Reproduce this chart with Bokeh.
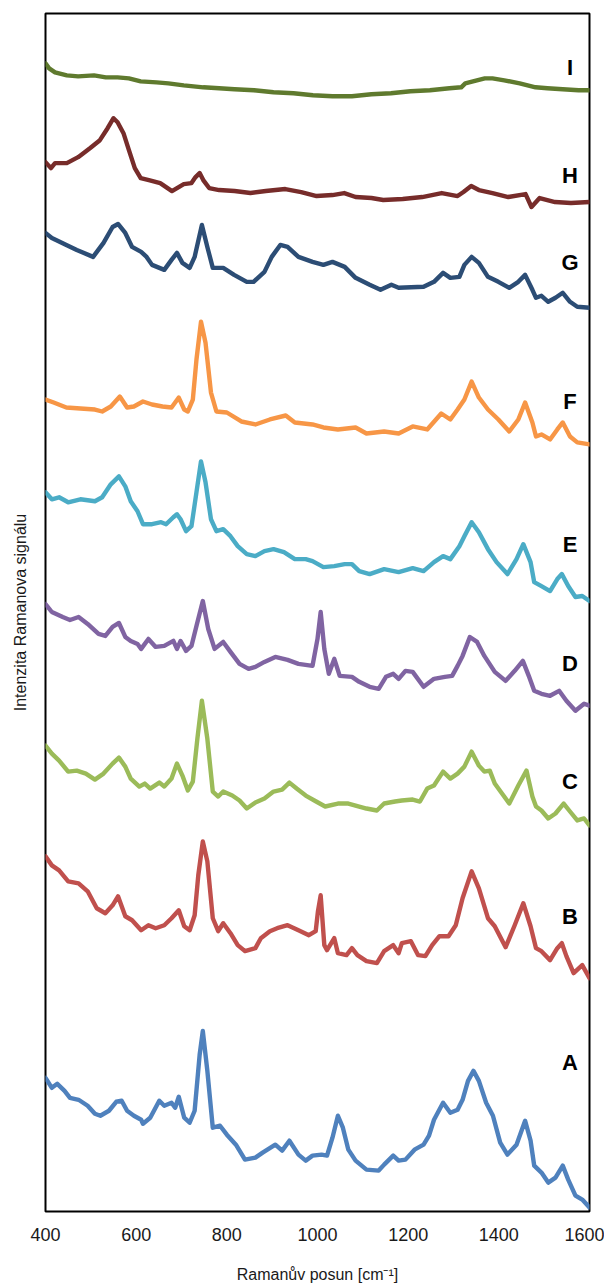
from bokeh.plotting import figure
from bokeh.models import Range1d, FixedTicker, ColumnDataSource
from bokeh.core.properties import value
from bokeh.embed import file_html
from bokeh.resources import INLINE

# ---- data (Raman shift in cm^-1, stacked intensity in a.u.) ----
A_x = [400,414,426,442,454,473,493,509,521,540,556,568,580,595,611,615,631,651,662,678,
       686,694,706,718,729,740,747,757,769,785,800,820,840,863,879,907,922,938,958,974,
       989,1009,1021,1033,1045,1056,1068,1084,1108,1135,1147,1167,1179,1194,1214,1234,1246,1257,1277,1293,
       1309,1320,1332,1344,1356,1372,1387,1403,1419,1439,1458,1470,1478,1494,1509,1525,1541,1553,1569,1584,1600]
A_y = [133,123,127,120,113,111,105,97,95,100,109,110,100,95,91,87,93,110,105,108,
       103,114,93,88,100,156,180,140,83,85,76,66,51,53,58,66,60,70,56,50,
       55,56,55,73,95,83,61,50,41,40,46,55,50,51,61,66,75,91,108,98,
       101,111,130,140,130,108,95,68,56,66,90,70,45,38,28,33,45,31,15,11,3]

B_x = [400,414,430,450,473,493,513,532,548,560,576,591,611,627,643,662,678,694,706,718,
       729,737,747,757,769,781,792,808,824,840,863,875,895,911,934,958,981,996,1001,1007,
       1015,1021,1037,1045,1064,1076,1088,1108,1131,1147,1167,1179,1186,1206,1222,1238,1253,1269,1289,1305,
       1320,1340,1356,1376,1391,1415,1435,1454,1470,1482,1494,1513,1529,1539,1549,1565,1584,1600]
B_y = [355,346,341,330,328,320,303,298,306,315,295,291,281,286,283,286,293,301,285,281,
       296,336,370,350,293,280,288,278,266,260,263,273,280,283,286,281,276,280,300,316,
       266,261,273,258,256,263,256,250,248,260,266,258,268,270,256,255,266,275,275,286,
       313,340,323,293,285,264,286,308,285,263,260,251,263,268,255,238,246,233]

C_x = [400,414,430,450,469,489,509,528,548,562,576,588,607,619,631,651,662,678,690,702,
       714,725,735,745,757,769,781,792,812,828,844,863,883,903,922,938,954,974,997,1017,
       1045,1068,1084,1108,1131,1147,1171,1186,1210,1226,1242,1257,1277,1293,1309,1324,1340,1356,1368,1380,
       1391,1407,1423,1443,1461,1474,1482,1494,1509,1525,1543,1557,1573,1588,1600]
C_y = [466,458,451,440,441,438,432,438,448,454,445,433,425,428,423,429,425,433,448,436,
       421,430,473,511,473,420,415,420,416,411,403,409,413,420,422,429,423,416,410,405,
       408,408,406,403,401,408,410,411,412,410,423,426,440,433,438,445,460,446,440,441,
       428,418,408,426,441,415,405,401,393,398,408,400,391,393,386]

D_x = [400,414,438,454,473,493,517,532,548,562,576,588,603,611,627,643,662,682,690,698,
       710,722,733,747,759,773,792,808,828,848,863,883,907,934,958,989,1000,1007,1015,1025,
       1037,1049,1076,1092,1115,1135,1151,1167,1179,1194,1210,1234,1257,1281,1297,1309,1320,1336,1352,1368,
       1391,1415,1435,1453,1466,1478,1494,1513,1533,1549,1569,1588,1600]
D_y = [608,600,595,592,595,588,578,576,585,589,575,571,568,563,573,565,566,571,563,571,
       561,566,586,611,583,563,570,560,548,543,545,550,555,552,548,546,573,600,563,538,
       553,536,535,530,525,523,535,538,533,541,540,525,533,535,536,546,556,575,570,556,
       540,531,541,551,536,521,518,516,521,511,501,508,506]

E_x = [400,414,430,450,477,509,525,544,562,576,588,603,615,635,655,666,682,690,698,710,
       722,733,743,753,765,777,792,808,824,844,863,883,903,926,950,974,989,1013,1037,1060,
       1076,1092,1115,1147,1179,1210,1234,1257,1277,1293,1313,1324,1340,1356,1376,1395,1419,1439,1454,1470,
       1478,1494,1513,1529,1539,1553,1569,1584,1600]
E_y = [720,713,715,710,713,711,715,728,736,726,711,701,688,688,690,688,695,698,693,681,
       686,720,751,730,693,681,683,676,666,658,656,661,663,660,653,653,651,645,646,648,
       648,641,638,643,640,644,641,650,656,653,666,676,690,680,663,650,638,653,668,650,
       630,626,621,633,638,626,615,616,611]

F_x = [400,418,446,477,509,525,544,564,580,595,615,635,658,678,694,706,714,725,733,743,
       753,765,777,800,832,863,895,930,950,989,1013,1045,1084,1108,1147,1179,1210,1242,1273,1293,
       1309,1324,1340,1356,1376,1399,1423,1443,1458,1474,1482,1494,1513,1529,1541,1557,1573,1600]
F_y = [813,810,805,804,803,801,806,816,805,806,811,808,806,805,815,803,801,813,853,891,
       870,820,801,800,791,788,793,797,790,788,785,783,785,779,781,779,786,783,799,793,
       803,813,831,815,803,793,781,793,810,790,776,778,773,783,790,776,770,768]

G_x = [400,414,446,469,505,528,548,560,576,591,611,623,635,662,678,690,702,718,729,745,
       757,769,792,816,844,859,883,899,918,934,958,989,1013,1033,1060,1084,1115,1139,1163,1179,
       1234,1257,1277,1293,1313,1324,1340,1356,1376,1399,1423,1443,1458,1474,1482,1494,1509,1525,1541,1557,
       1573,1600]
G_y = [980,975,968,963,956,970,986,989,980,966,961,956,948,943,953,960,950,945,956,988,
       966,945,945,938,931,931,941,956,968,966,956,951,948,951,946,935,928,923,928,925,
       926,931,940,935,936,948,956,950,936,931,925,931,938,923,915,917,911,915,920,911,
       906,905]

H_x = [400,412,421,447,472,498,520,537,550,559,572,584,597,610,628,653,679,705,722,731,
       740,748,761,783,817,852,886,929,964,998,1033,1059,1084,1119,1145,1188,1231,1274,1309,1322,
       1339,1356,1386,1421,1459,1472,1490,1524,1559,1600]
H_y = [1051,1045,1050,1050,1056,1065,1073,1085,1095,1091,1080,1063,1045,1035,1033,1030,1022,1029,1030,1036,
       1040,1033,1025,1023,1022,1020,1022,1024,1021,1017,1018,1020,1016,1015,1013,1014,1016,1020,1017,1021,
       1027,1023,1020,1016,1019,1006,1015,1011,1010,1011]

I_x = [400,408,421,447,472,507,533,559,584,610,645,671,705,748,783,817,860,903,947,990,
       1033,1076,1119,1162,1205,1248,1291,1317,1326,1343,1369,1386,1412,1446,1481,1507,1541,1576,1600]
I_y = [1150,1145,1141,1138,1137,1138,1136,1136,1135,1132,1131,1130,1128,1126,1125,1124,1123,1121,1120,1118,
       1117,1117,1119,1120,1122,1123,1125,1126,1130,1132,1135,1135,1133,1130,1126,1125,1124,1123,1123]

series_names = ["A", "B", "C", "D", "E", "F", "G", "H", "I"]
series_x = [A_x, B_x, C_x, D_x, E_x, F_x, G_x, H_x, I_x]
series_y = [A_y, B_y, C_y, D_y, E_y, F_y, G_y, H_y, I_y]
series_colors = ["#4F81BD", "#C0504D", "#9BBB59", "#8064A2", "#4BACC6",
                 "#F79646", "#2C4D75", "#772C2A", "#5F7A2E"]
label_x = 1557
label_y = [148, 295, 430, 548, 668, 811, 950, 1038, 1146]
x_ticks = [400, 600, 800, 1000, 1200, 1400, 1600]

FONT = "Liberation Sans"

p = figure(width=604, height=1285, output_backend="svg", toolbar_location=None,
           x_range=Range1d(400, 1600), y_range=Range1d(-1, 1200),
           min_border_left=45, min_border_right=15, min_border_top=13, min_border_bottom=71)
p.background_fill_color = "white"
p.border_fill_color = "white"
p.outline_line_color = "black"
p.outline_line_width = 2
p.xgrid.visible = False
p.ygrid.visible = False

for name, xs, ys, col in zip(series_names, series_x, series_y, series_colors):
    p.line(xs, ys, line_color=col, line_width=4.4, line_join="round", line_cap="round")

src = ColumnDataSource(dict(x=[label_x] * len(series_names), y=label_y, t=series_names))
p.text(x="x", y="y", text="t", source=src, text_font=value(FONT), text_font_style="bold",
       text_font_size="22px", text_align="center", text_baseline="middle", text_color="black")

xa = p.xaxis[0]
xa.ticker = FixedTicker(ticks=x_ticks)
xa.axis_line_color = None
xa.major_tick_in = 0
xa.major_tick_out = 0
xa.minor_tick_line_color = None
xa.major_label_text_font = FONT
xa.major_label_text_font_size = "18px"
xa.major_label_text_color = "#1a1a1a"
xa.major_label_standoff = 16
xa.axis_label = "Ramanův posun [cm⁻¹]"
xa.axis_label_text_font = FONT
xa.axis_label_text_font_size = "16px"
xa.axis_label_text_font_style = "normal"
xa.axis_label_text_color = "#1a1a1a"
xa.axis_label_standoff = 22

ya = p.yaxis[0]
ya.ticker = FixedTicker(ticks=[])
ya.axis_line_color = None
ya.major_tick_in = 0
ya.major_tick_out = 0
ya.minor_tick_line_color = None
ya.axis_label = "Intenzita Ramanova signálu"
ya.axis_label_text_font = FONT
ya.axis_label_text_font_size = "16px"
ya.axis_label_text_font_style = "normal"
ya.axis_label_text_color = "#1a1a1a"
ya.axis_label_standoff = 17

open("out.html", "w").write(file_html(p, INLINE))
